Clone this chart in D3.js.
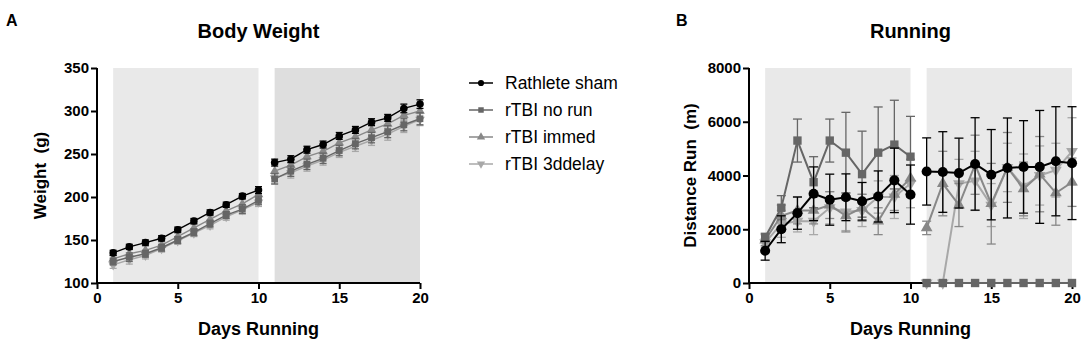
<!DOCTYPE html>
<html>
<head>
<meta charset="utf-8">
<script src="https://cdn.jsdelivr.net/npm/d3@7"></script>
<style>
  body { margin: 0; background: #fff; }
  svg { font-family: Arial, "Liberation Sans", sans-serif; }
</style>
</head>
<body>
<svg id="chart" width="1084" height="345"></svg>
<script>
// ---- data ----
const days = d3.range(1, 21);
const seriesNames = ['Rathlete sham', 'rTBI no run', 'rTBI immed', 'rTBI 3ddelay'];

// body weight (g)
const wSham   = [135,142,147,152,162,172,182,191,201,208, 240,244,255,261,271,278,287,292,303,308];
const wNoRun  = [125,130,134,141,150,159,169,179,186,196, 221,230,238,245,254,262,269,276,284,291];
const wImmed  = [128,134,138,144,154,164,174,184,192,203, 230,237,247,253,263,270,278,285,295,300];
const wDelay  = [121,127,132,140,149,158,167,177,185,194, 222,228,236,243,252,259,266,273,282,290];
const wShamErr  = [3,3,3,3,3,3,3,3,3,4, 4,4,4,4,4,4,4,4,5,5];
const wNoRunErr = [4,5,4,4,4,4,4,4,5,5, 6,6,6,6,6,6,6,7,7,7];
const wImmedErr = [4,6,5,4,4,4,4,4,5,6, 8,7,7,7,6,7,7,8,8,8];
const wDelayErr = [4,5,4,4,4,4,4,4,5,5, 6,6,6,6,6,6,6,7,7,7];

// distance run (m)
const rSham   = [1200,2000,2600,3320,3100,3190,3040,3220,3820,3290, 4150,4130,4090,4430,4030,4280,4320,4320,4530,4460];
const rNoRun  = [1700,2800,5300,3750,5300,4850,4050,4850,5150,4700, 0,0,0,0,0,0,0,0,0,0];
const rImmed  = [1600,2500,2700,2700,2900,2500,2800,2300,3300,3900, 2050,3700,2900,4400,2950,4300,3500,4050,3350,3750];
const rDelay  = [1500,2200,2300,2300,2800,2650,2700,3200,3200,3700, 0,0,3700,3800,2900,4300,3600,4000,4200,4900];
const rShamErr  = [350,500,600,1000,950,870,700,950,1200,1100, 1250,1500,1300,1720,1680,1860,1720,2100,2030,2100];
const rNoRunErr = [150,450,800,950,800,1500,1600,1700,1650,1500, 0,0,0,0,0,0,0,0,0,0];
const rImmedErr = [200,400,500,500,500,600,500,500,600,700, 250,1200,800,1100,1500,1300,1000,1400,1200,900];
const rDelayErr = [150,500,400,500,600,700,600,600,800,900, 0,0,900,1100,800,900,1200,1100,1000,1250];

const colors = ['#000000', '#666666', '#888888', '#a8a8a8'];
const symbols = [d3.symbolCircle, d3.symbolSquare, d3.symbolTriangle, 'down'];

const svg = d3.select('#chart');

function marker(g, type, x, y, size, color) {
  if (type === 'down') {
    g.append('path')
      .attr('d', d3.symbol(d3.symbolTriangle, size)())
      .attr('transform', `translate(${x},${y}) rotate(180)`)
      .attr('fill', color);
  } else {
    g.append('path')
      .attr('d', d3.symbol(type, size)())
      .attr('transform', `translate(${x},${y})`)
      .attr('fill', color);
  }
}

function drawPanel(opt) {
  const { left, right, top, bottom, yDomain, yTicks, series, shade, title, yLabel, yLabelX, lw, msize, cap } = opt;
  const x = d3.scaleLinear().domain([0, 20]).range([left, right]);
  const y = d3.scaleLinear().domain(yDomain).range([bottom, top]);
  const g = svg.append('g');

  // shaded blocks
  g.append('rect').attr('x', x(1)).attr('y', top).attr('width', x(10) - x(1)).attr('height', bottom - top).attr('fill', shade[0]);
  g.append('rect').attr('x', x(11)).attr('y', top).attr('width', x(20) - x(11)).attr('height', bottom - top).attr('fill', shade[1]);

  // axes
  const xa = g.append('g').attr('transform', `translate(0,${bottom})`)
    .call(d3.axisBottom(x).tickValues([0, 5, 10, 15, 20]).tickFormat(d3.format('d')).tickSize(6).tickPadding(3));
  const ya = g.append('g').attr('transform', `translate(${left},0)`)
    .call(d3.axisLeft(y).tickValues(yTicks).tickFormat(d3.format('d')).tickSize(6).tickPadding(2));
  [xa, ya].forEach(a => {
    a.select('.domain').attr('stroke', '#000').attr('stroke-width', 2);
    a.selectAll('.tick line').attr('stroke', '#000').attr('stroke-width', 2);
    a.selectAll('.tick text').attr('fill', '#000').attr('font-size', 15).attr('font-weight', 'bold')
      .attr('font-family', 'Arial, "Liberation Sans", sans-serif');
  });
  xa.select('.domain').attr('d', `M${left},0H${right}`);
  ya.select('.domain').attr('d', `M0,${bottom}V${top}`);

  // series, drawn back to front so sham ends on top
  [3, 2, 1, 0].forEach(si => {
    const s = series[si];
    const c = colors[si];
    const sg = g.append('g');
    // error bars
    days.forEach((d, i) => {
      const e = s.err[i];
      if (!e) return;
      const cx = x(d);
      sg.append('line').attr('x1', cx).attr('x2', cx).attr('y1', y(s.v[i] - e)).attr('y2', y(s.v[i] + e))
        .attr('stroke', c).attr('stroke-width', 1.3);
      [s.v[i] - e, s.v[i] + e].forEach(v => {
        sg.append('line').attr('x1', cx - cap).attr('x2', cx + cap).attr('y1', y(v)).attr('y2', y(v))
          .attr('stroke', c).attr('stroke-width', 1.3);
      });
    });
    // lines: two separate segments
    const line = d3.line().x(d => x(d[0])).y(d => y(d[1]));
    [[0, 10], [10, 20]].forEach(([a, b]) => {
      const pts = days.slice(a, b).map((d, k) => [d, s.v[a + k]]);
      sg.append('path').attr('d', line(pts)).attr('fill', 'none').attr('stroke', c).attr('stroke-width', lw);
    });
    days.forEach((d, i) => marker(sg, symbols[si], x(d), y(s.v[i]), msize[si], c));
  });

  // titles
  svg.append('text').attr('x', (left + right) / 2).attr('y', 38).attr('text-anchor', 'middle')
    .attr('font-size', 20).attr('font-weight', 'bold').text(title);
  svg.append('text').attr('x', (left + right) / 2).attr('y', 335).attr('text-anchor', 'middle')
    .attr('font-size', 18).attr('font-weight', 'bold').text('Days Running');
  svg.append('text').attr('transform', `translate(${yLabelX},${(top + bottom) / 2}) rotate(-90)`)
    .attr('text-anchor', 'middle').attr('dy', '0.35em')
    .attr('font-size', 17).attr('font-weight', 'bold').attr('xml:space', 'preserve').text(yLabel);
}

drawPanel({
  left: 97, right: 420, top: 68, bottom: 283,
  yDomain: [100, 350], yTicks: [100, 150, 200, 250, 300, 350],
  series: [
    { v: wSham, err: wShamErr }, { v: wNoRun, err: wNoRunErr },
    { v: wImmed, err: wImmedErr }, { v: wDelay, err: wDelayErr }
  ],
  shade: ['#e9e9e9', '#dedede'],
  title: 'Body Weight', yLabel: 'Weight  (g)', yLabelX: 40,
  lw: 1.4, msize: [45, 45, 40, 40], cap: 3.5
});

drawPanel({
  left: 749, right: 1072, top: 68, bottom: 283,
  yDomain: [0, 8000], yTicks: [0, 2000, 4000, 6000, 8000],
  series: [
    { v: rSham, err: rShamErr }, { v: rNoRun, err: rNoRunErr },
    { v: rImmed, err: rImmedErr }, { v: rDelay, err: rDelayErr }
  ],
  shade: ['#e9e9e9', '#e9e9e9'],
  title: 'Running', yLabel: 'Distance Run  (m)', yLabelX: 690,
  lw: 2, msize: [80, 70, 60, 60], cap: 4.5
});

// panel letters
svg.append('text').attr('x', 6).attr('y', 26).attr('font-size', 16).attr('font-weight', 'bold').text('A');
svg.append('text').attr('x', 676).attr('y', 26).attr('font-size', 16).attr('font-weight', 'bold').text('B');

// legend
const legendY = [83, 110, 137, 164];
const lg = svg.append('g');
seriesNames.forEach((name, i) => {
  lg.append('line').attr('x1', 469).attr('x2', 493).attr('y1', legendY[i]).attr('y2', legendY[i])
    .attr('stroke', colors[i]).attr('stroke-width', 1.5);
  marker(lg, symbols[i], 481, legendY[i], 30, colors[i]);
  lg.append('text').attr('x', 505).attr('y', legendY[i]).attr('dy', '0.35em')
    .attr('font-size', 17.5).attr('fill', '#000').text(name);
});
</script>
</body>
</html>
